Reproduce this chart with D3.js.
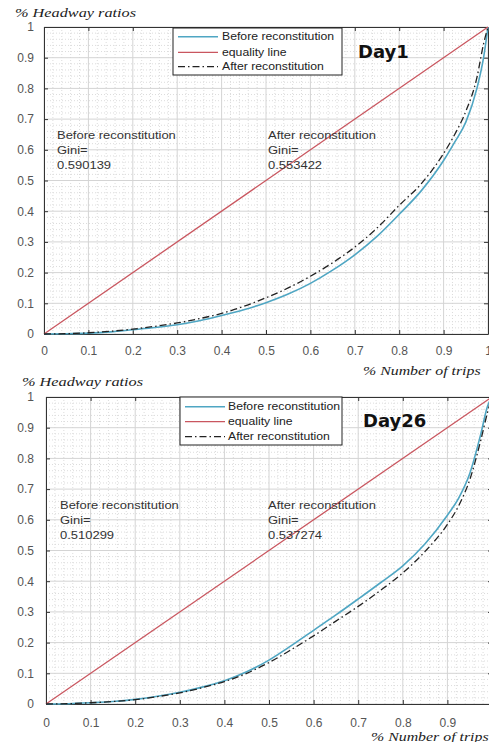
<!DOCTYPE html>
<html><head><meta charset="utf-8">
<script src="https://cdn.jsdelivr.net/npm/d3@7"></script>
<style>body{margin:0;background:#fff}svg{display:block}</style>
</head><body>
<svg id="c" width="489" height="742"></svg>
<script>
// ---------- data ----------
const shareTrips = [0,0.05,0.1,0.15,0.2,0.25,0.3,0.35,0.4,0.45,0.5,0.55,0.6,0.65,0.7,0.75,0.8,0.85,0.9,0.925,0.95,0.975,0.99,1];
const day1Before = [0,0.001,0.003,0.007,0.014,0.021,0.030,0.043,0.060,0.079,0.102,0.130,0.165,0.208,0.258,0.318,0.390,0.467,0.565,0.625,0.690,0.800,0.900,1];
const day1After  = [0,0.001,0.004,0.009,0.016,0.025,0.036,0.050,0.067,0.090,0.118,0.150,0.188,0.232,0.283,0.345,0.419,0.490,0.588,0.650,0.725,0.835,0.945,1];
const day26Before = [0,0.001,0.004,0.008,0.015,0.025,0.038,0.055,0.076,0.105,0.143,0.190,0.240,0.290,0.342,0.395,0.450,0.522,0.615,0.670,0.750,0.880,0.970,1];
const day26After  = [0,0.001,0.004,0.008,0.014,0.024,0.036,0.053,0.073,0.100,0.135,0.177,0.222,0.270,0.318,0.370,0.427,0.497,0.585,0.645,0.730,0.860,0.950,1];
const equalityX = [0,1];
const equalityY = [0,1];
const tickValues = [0,0.1,0.2,0.3,0.4,0.5,0.6,0.7,0.8,0.9,1];
const tickLabels = ["0","0.1","0.2","0.3","0.4","0.5","0.6","0.7","0.8","0.9","1"];
const seriesNames = ["Before reconstitution","equality line","After reconstitution"];
const panelTitles = ["Day1","Day26"];
const giniBefore = ["0.590139","0.510299"];
const giniAfter = ["0.553422","0.537274"];
const yAxisTitle = "% Headway ratios";
const xAxisTitles = ["% Number of trips","% Number of trips"];

// ---------- layout ----------
const layouts = [
  {x0:44,x1:488,y0:334,y1:27,xPad:12,yPad:10,yLab:[15,17],xLab:[363,375],
   leg:{x:173,y:28,w:169,h:47,rows:[36.7,52.3,66.7],lx0:178,lx1:218,tx:222},
   title:[358,58],annB:[57,139],annA:[268,139]},
  {x0:46,x1:492,y0:704,y1:397,xPad:14,yPad:12,yLab:[22,386],xLab:[371,740.5],
   leg:{x:180,y:397,w:162,h:48,rows:[406.7,421.7,436.7],lx0:185,lx1:225,tx:228},
   title:[363,427],annB:[60,509],annA:[268,509]}
];
const panelSeries = [[day1Before, day1After],[day26Before, day26After]];
const BLUE = "#4fa6c3", RED = "#c9565f", BLACK = "#222";
const SANS = "'Liberation Sans', Arial, Helvetica, sans-serif";

const svg = d3.select("#c");
svg.append("rect").attr("width",489).attr("height",742).attr("fill","#fff");

function stretch(sel, f){
  sel.each(function(){
    const w = this.getComputedTextLength();
    this.setAttribute("textLength", (w*f).toFixed(1));
    this.setAttribute("lengthAdjust","spacingAndGlyphs");
  });
}

layouts.forEach((L, pi) => {
  const g = svg.append("g");
  const x = d3.scaleLinear().domain([0,1]).range([L.x0, L.x1]);
  const y = d3.scaleLinear().domain([0,1]).range([L.y0, L.y1]);
  const minor = d3.range(0, 51).map(i => i/50).filter(v => Math.round(v*50) % 5 !== 0);

  // minor grid
  g.append("g").selectAll("line").data(minor).join("line")
    .attr("x1", d => x(d)).attr("x2", d => x(d)).attr("y1", L.y0).attr("y2", L.y1)
    .attr("stroke","#dcdcdc").attr("stroke-dasharray","1,2").attr("stroke-width",1);
  g.append("g").selectAll("line").data(minor).join("line")
    .attr("y1", d => y(d)).attr("y2", d => y(d)).attr("x1", L.x0).attr("x2", L.x1)
    .attr("stroke","#dcdcdc").attr("stroke-dasharray","1,2").attr("stroke-width",1);
  // major grid
  g.append("g").selectAll("line").data(tickValues).join("line")
    .attr("x1", d => x(d)).attr("x2", d => x(d)).attr("y1", L.y0).attr("y2", L.y1)
    .attr("stroke","#d4d4d4").attr("stroke-width",1);
  g.append("g").selectAll("line").data(tickValues).join("line")
    .attr("y1", d => y(d)).attr("y2", d => y(d)).attr("x1", L.x0).attr("x2", L.x1)
    .attr("stroke","#d4d4d4").attr("stroke-width",1);

  // axes
  const fmt = (d,i) => tickLabels[i];
  const styleAxis = a => {
    a.selectAll("path,line").attr("stroke","#333");
    a.selectAll("text").attr("font-family",SANS).attr("font-size",12).attr("fill","#555");
  };
  g.append("g").attr("transform",`translate(0,${L.y0})`)
    .call(d3.axisBottom(x).tickValues(tickValues).tickFormat(fmt).tickSize(-4).tickSizeOuter(0).tickPadding(L.xPad))
    .call(styleAxis);
  g.append("g").attr("transform",`translate(0,${L.y1})`)
    .call(d3.axisTop(x).tickValues(tickValues).tickFormat("").tickSize(-4).tickSizeOuter(0))
    .call(styleAxis);
  g.append("g").attr("transform",`translate(${L.x0},0)`)
    .call(d3.axisLeft(y).tickValues(tickValues).tickFormat(fmt).tickSize(-4).tickSizeOuter(0).tickPadding(L.yPad))
    .call(styleAxis);
  g.append("g").attr("transform",`translate(${L.x1},0)`)
    .call(d3.axisRight(y).tickValues(tickValues).tickFormat("").tickSize(-4).tickSizeOuter(0))
    .call(styleAxis);

  // curves
  const line = d3.line().x(d => x(d[0])).y(d => y(d[1])).curve(d3.curveMonotoneX);
  const [before, after] = panelSeries[pi];
  g.append("path").datum(shareTrips.map((s,i) => [s, before[i]]))
    .attr("d", line).attr("fill","none").attr("stroke",BLUE).attr("stroke-width",1.6);
  g.append("path").datum(equalityX.map((s,i) => [s, equalityY[i]]))
    .attr("d", line).attr("fill","none").attr("stroke",RED).attr("stroke-width",1.3);
  g.append("path").datum(shareTrips.map((s,i) => [s, after[i]]))
    .attr("d", line).attr("fill","none").attr("stroke",BLACK).attr("stroke-width",1.3)
    .attr("stroke-dasharray","7,3,1.5,3");

  // axis titles
  const yt = g.append("text").attr("x",L.yLab[0]).attr("y",L.yLab[1]).text(yAxisTitle)
    .attr("font-family","'Liberation Serif', 'Times New Roman', serif").attr("font-style","italic")
    .attr("font-size",13).attr("fill","#222");
  stretch(yt, 1.25);
  const xt = g.append("text").attr("x",L.xLab[0]).attr("y",L.xLab[1]).text(xAxisTitles[pi])
    .attr("font-family","'Liberation Serif', 'Times New Roman', serif").attr("font-style","italic")
    .attr("font-size",13).attr("fill","#222");
  stretch(xt, 1.22);

  // legend
  const lg = L.leg;
  g.append("rect").attr("x",lg.x).attr("y",lg.y).attr("width",lg.w).attr("height",lg.h)
    .attr("fill","#fff").attr("stroke","#222").attr("stroke-width",1);
  const legStyles = [{c:BLUE,w:1.6,d:null},{c:RED,w:1.3,d:null},{c:BLACK,w:1.3,d:"7,3,1.5,3"}];
  seriesNames.forEach((name,i) => {
    const ly = lg.rows[i];
    g.append("line").attr("x1",lg.lx0).attr("x2",lg.lx1).attr("y1",ly).attr("y2",ly)
      .attr("stroke",legStyles[i].c).attr("stroke-width",legStyles[i].w)
      .attr("stroke-dasharray",legStyles[i].d);
    const t = g.append("text").attr("x",lg.tx).attr("y",ly).attr("dy","0.35em").text(name)
      .attr("font-family",SANS).attr("font-size",10.2).attr("fill","#222");
    stretch(t, 1.2);
  });

  // title
  g.append("text").attr("x",L.title[0]).attr("y",L.title[1]).text(panelTitles[pi])
    .attr("font-family","'DejaVu Sans', Verdana, sans-serif").attr("font-weight","bold")
    .attr("font-size",18).attr("fill","#111");

  // annotations
  const ann = (pos, lines) => lines.forEach((s,i) => {
    const t = g.append("text").attr("x",pos[0]).attr("y",pos[1] + i*15).text(s)
      .attr("font-family",SANS).attr("font-size",10.8).attr("fill","#333");
    stretch(t, 1.2);
  });
  ann(L.annB, ["Before reconstitution","Gini=",giniBefore[pi]]);
  ann(L.annA, ["After reconstitution","Gini=",giniAfter[pi]]);
});
</script>
</body></html>
